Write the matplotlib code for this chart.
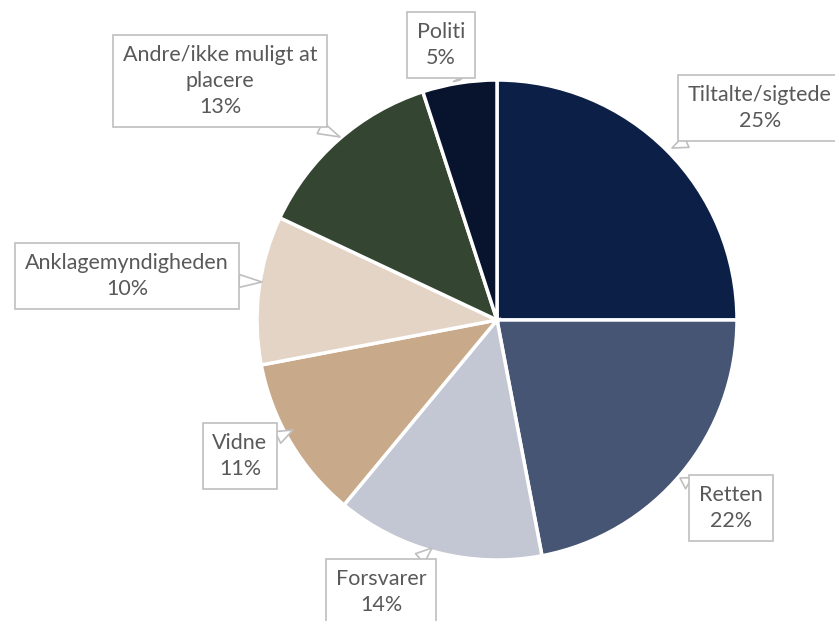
import matplotlib.pyplot as plt

# slices, clockwise from 12 o'clock
labels = ['Tiltalte/sigtede', 'Retten', 'Forsvarer', 'Vidne',
          'Anklagemyndigheden', 'Andre/ikke muligt at\nplacere', 'Politi']
shares = [25, 22, 14, 11, 10, 13, 5]
colors = ['#0c1f47', '#465574', '#c3c7d3', '#c8a98a',
          '#e3d4c5', '#344631', '#08142d']

W, H = 835, 621
fig = plt.figure(figsize=(W / 100, H / 100), dpi=100)
ax = fig.add_axes([0, 0, 1, 1])
ax.set_xlim(0, W)
ax.set_ylim(0, H)
ax.set_aspect('equal')
ax.axis('off')

cx, cy, r = 497, H - 320, 240
ax.pie(shares, colors=colors, startangle=90, counterclock=False,
       center=(cx, cy), radius=r,
       wedgeprops=dict(edgecolor='white', linewidth=2.5))
ax.set_xlim(0, W)
ax.set_ylim(0, H)

# label box centre and pointer tip, in pixels from top-left
boxes = [
    ((760, 108), (672, 148)),
    ((731, 508), (680, 478)),
    ((381, 592), (432, 548)),
    ((240, 456), (293, 430)),
    ((127, 276), (262, 282)),
    ((220, 81), (340, 137)),
    ((441, 45), (460, 80)),
]

for lab, val, (tpos, tip) in zip(labels, shares, boxes):
    ax.annotate(f'{lab}\n{val}%', xy=(tip[0], H - tip[1]),
                xytext=(tpos[0], H - tpos[1]),
                ha='center', va='center', fontsize=15.5, color='#595959',
                family='Lato', linespacing=1.4,
                bbox=dict(boxstyle='square,pad=0.45', fc='white',
                          ec='#bfbfbf', lw=1.2),
                arrowprops=dict(arrowstyle='wedge,tail_width=0.6',
                                fc='white', ec='#bfbfbf', lw=1.2,
                                shrinkA=0, shrinkB=0))

fig.savefig('out.png', dpi=100)
